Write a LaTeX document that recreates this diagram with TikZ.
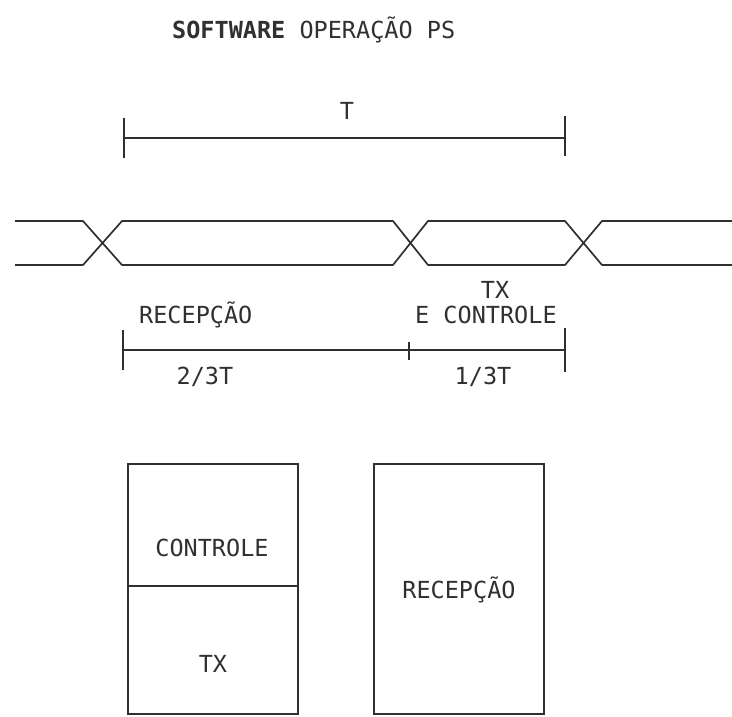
\documentclass[tikz,border=0pt]{standalone}
\usepackage{fontspec}
\newfontfamily\typefont{DejaVu Sans Mono}
\usetikzlibrary{positioning,calc}
\definecolor{scanink}{RGB}{48,48,48}
\tikzset{
  scan line/.style={
    draw=scanink,
    line width=1.7pt,
    line join=round,
  },
  scan box/.style={
    draw=scanink,
    line width=2pt,
    rectangle,
    inner sep=0pt,
    anchor=north west,
    minimum width=170pt,
  },
  scan label/.style={
    text=scanink,
    font=\typefont\fontsize{23.5}{26}\selectfont,
    inner sep=0pt,
    anchor=base,
  },
}

\begin{document}
\begin{tikzpicture}[x=1pt,y=-1pt]
  \useasboundingbox (0,0) rectangle (732,716);
  % title
  \node[scan label, anchor=base west] (title) at (172,38)
    {\textbf{SOFTWARE} OPERAÇÃO PS};

  % period T
  \coordinate (tL) at (124,138);
  \coordinate (tR) at (565,138);
  \draw[scan line] (tL) -- (tR);
  \draw[scan line] ($(tL)+(0,-20)$) -- ($(tL)+(0,20)$);
  \draw[scan line] ($(tR)+(0,-22)$) -- ($(tR)+(0,18)$);
  \node[scan label] (tlbl) at (347,119) {T};

  % bus waveform
  \draw[scan line] (15,221) -- (83,221) -- (122,265) -- (393,265) -- (428,221)
    -- (565,221) -- (602,265) -- (732,265);
  \draw[scan line] (15,265) -- (83,265) -- (122,221) -- (393,221) -- (428,265)
    -- (565,265) -- (602,221) -- (732,221);

  % split of the period
  \node[scan label, anchor=base west] (rxlbl) at (139,323) {RECEPÇÃO};
  \node[scan label] (txlbl) at (495,298) {TX};
  \node[scan label, anchor=base west] (ctllbl) at (415,323) {E CONTROLE};
  \coordinate (sL) at (123,350);
  \coordinate (sM) at (409,350);
  \coordinate (sR) at (565,350);
  \draw[scan line] (sL) -- (sR);
  \draw[scan line] ($(sL)+(0,-20)$) -- ($(sL)+(0,20)$);
  \draw[scan line] ($(sM)+(0,-8)$) -- ($(sM)+(0,10)$);
  \draw[scan line] ($(sR)+(0,-22)$) -- ($(sR)+(0,22)$);
  \node[scan label] (twothirds) at (205,384) {2/3T};
  \node[scan label] (onethird) at (483,384) {1/3T};

  % processor time blocks
  \node[scan box, minimum height=122pt] (ctlbox) at (127,463) {};
  \node[scan box, minimum height=128pt] (txbox) at (127,585) {};
  \node[scan box, minimum height=250pt] (rxbox) at (373,463) {};
  \node[scan label] (ctltext) at (212,556) {CONTROLE};
  \node[scan label] (txtext) at (213,672) {TX};
  \node[scan label] (rxtext) at (459,598) {RECEPÇÃO};
\end{tikzpicture}
\end{document}
